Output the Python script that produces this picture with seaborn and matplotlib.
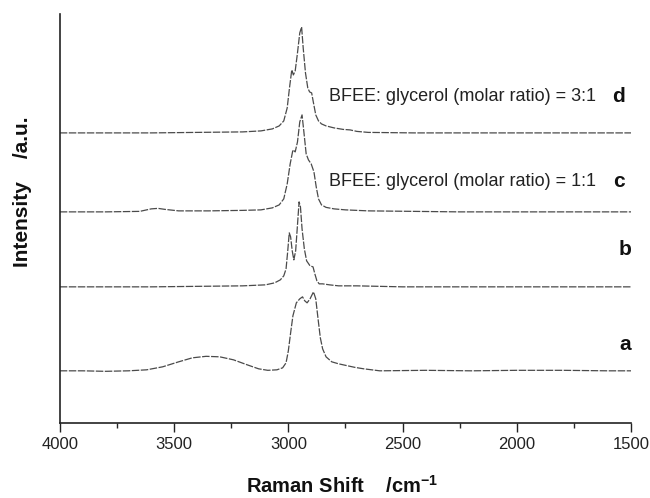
import numpy as np
import pandas as pd
import matplotlib
matplotlib.use("Agg")
import matplotlib.pyplot as plt
import seaborn as sns

# ---- data ----
labels = ["a", "b", "c", "d"]
offsets = [0.52, 1.36, 2.11, 2.90]

wn_a = [4000, 3900, 3800, 3700, 3620, 3550, 3480, 3420, 3360, 3300, 3240, 3180, 3130, 3090, 3050,
        3025, 3010, 3000, 2990, 2980, 2965, 2950, 2938, 2928, 2918, 2905, 2890, 2880, 2870, 2860,
        2850, 2835, 2810, 2780, 2740, 2710, 2670, 2600, 2400, 2200, 2000, 1800, 1600, 1500]
int_a = [0.00, 0.00, -0.005, 0.00, 0.01, 0.04, 0.09, 0.13, 0.145, 0.14, 0.11, 0.06, 0.02, 0.005, 0.01,
         0.03, 0.08, 0.20, 0.38, 0.55, 0.68, 0.72, 0.74, 0.70, 0.68, 0.72, 0.79, 0.72, 0.52, 0.33,
         0.22, 0.14, 0.09, 0.07, 0.05, 0.035, 0.02, 0.00, 0.005, 0.0, 0.005, 0.005, 0.0, 0.0]

wn_b = [4000, 3800, 3600, 3400, 3200, 3100, 3060, 3035, 3020, 3010, 3003, 2996, 2990, 2983, 2976,
        2968, 2960, 2953, 2947, 2940, 2930, 2920, 2905, 2892, 2884, 2875, 2865, 2850, 2820, 2780,
        2700, 2500, 2300, 2100, 1900, 1700, 1500]
int_b = [0.0, 0.0, 0.0, 0.005, 0.01, 0.02, 0.04, 0.07, 0.11, 0.18, 0.35, 0.54, 0.50, 0.36, 0.27,
         0.36, 0.62, 0.85, 0.80, 0.58, 0.38, 0.26, 0.21, 0.20, 0.13, 0.06, 0.03, 0.03, 0.02, 0.01,
         0.01, 0.0, 0.0, 0.0, 0.0, 0.0, 0.0]

wn_c = [4000, 3800, 3650, 3600, 3570, 3540, 3480, 3350, 3200, 3120, 3070, 3040, 3020, 3005, 2992,
        2980, 2970, 2960, 2950, 2940, 2932, 2922, 2912, 2900, 2888, 2878, 2868, 2855, 2835, 2800,
        2750, 2650, 2450, 2250, 2050, 1850, 1650, 1500]
int_c = [0.0, 0.0, 0.005, 0.03, 0.035, 0.025, 0.01, 0.01, 0.015, 0.02, 0.04, 0.07, 0.13, 0.28, 0.48,
         0.62, 0.60, 0.70, 0.90, 0.97, 0.80, 0.58, 0.52, 0.48, 0.40, 0.25, 0.13, 0.07, 0.045, 0.03,
         0.02, 0.01, 0.005, 0.0, 0.0, 0.0, 0.0, 0.0]

wn_d = [4000, 3800, 3600, 3400, 3200, 3120, 3070, 3040, 3020, 3005, 2995, 2985, 2978, 2970, 2960,
        2950, 2942, 2935, 2925, 2915, 2907, 2898, 2890, 2880, 2868, 2855, 2835, 2800, 2760, 2730,
        2700, 2650, 2450, 2250, 2050, 1850, 1650, 1500]
int_d = [0.0, 0.0, 0.0, 0.005, 0.01, 0.02, 0.04, 0.07, 0.12, 0.25, 0.45, 0.63, 0.58, 0.62, 0.80,
         1.00, 1.06, 0.85, 0.60, 0.45, 0.41, 0.40, 0.30, 0.18, 0.12, 0.09, 0.07, 0.05, 0.035, 0.03,
         0.015, 0.005, 0.0, 0.0, 0.0, 0.0, 0.0, 0.0]

annot_texts = {"c": "BFEE: glycerol (molar ratio) = 1:1",
               "d": "BFEE: glycerol (molar ratio) = 3:1"}
xticks = [4000, 3500, 3000, 2500, 2000, 1500]

# ---- build long-form table ----
series = {"a": (wn_a, int_a), "b": (wn_b, int_b), "c": (wn_c, int_c), "d": (wn_d, int_d)}
frames = []
for lab, off in zip(labels, offsets):
    w, i = series[lab]
    frames.append(pd.DataFrame({"wn": w, "I": np.array(i) + off, "sample": lab}))
df = pd.concat(frames, ignore_index=True)

sns.set_style("ticks")
plt.rcParams["font.family"] = ["Liberation Sans", "DejaVu Sans"]
plt.rcParams["mathtext.fontset"] = "custom"
plt.rcParams["mathtext.rm"] = "Liberation Sans:bold"
plt.rcParams["mathtext.bf"] = "Liberation Sans:bold"

fig = plt.figure(figsize=(6.5, 4.98), dpi=100)
ax = fig.add_axes([0.092, 0.151, 0.879, 0.821])

for lab in labels:
    sub = df[df["sample"] == lab]
    sns.lineplot(data=sub, x="wn", y="I", ax=ax, color="#4a4a4a", linewidth=0.9,
                 linestyle=(0, (6, 1.2)), sort=False, estimator=None, legend=False)

ax.set_xlim(4000, 1500)
ax.set_ylim(0, 4.09)
ax.set_xticks(xticks)
ax.set_xticklabels([str(t) for t in xticks])
ax.set_xticks([3750, 3250, 2750, 2250, 1750], minor=True)
ax.set_yticks([])
ax.tick_params(axis="x", which="major", direction="out", length=6.5, width=1.0,
               labelsize=12, pad=4, colors="#222222")
ax.tick_params(axis="x", which="minor", direction="out", length=3.5, width=1.0)
for s in ["top", "right"]:
    ax.spines[s].set_visible(False)
for s in ["left", "bottom"]:
    ax.spines[s].set_linewidth(1.2)
    ax.spines[s].set_color("#222222")

ax.set_xlabel("")
ax.set_ylabel("")
fig.text(0.526, 0.024, "Raman Shift    /cm$^{-1}$", fontsize=14.5, fontweight="bold",
         ha="center", va="center", color="#111111")
fig.text(0.034, 0.614, "Intensity    /a.u.", fontsize=15, fontweight="bold",
         ha="center", va="center", rotation=90, color="#111111")

# annotations
letter_pos = {"a": (1525, 0.78), "b": (1528, 1.73), "c": (1552, 2.41), "d": (1555, 3.26)}
for lab in labels:
    x, y = letter_pos[lab]
    ax.text(x, y, lab, fontsize=15, fontweight="bold", ha="center", va="center", color="#111111")
    if lab in annot_texts:
        ax.text(2820, y, annot_texts[lab], fontsize=13, ha="left", va="center", color="#222222")

fig.savefig("out.png", dpi=100)
